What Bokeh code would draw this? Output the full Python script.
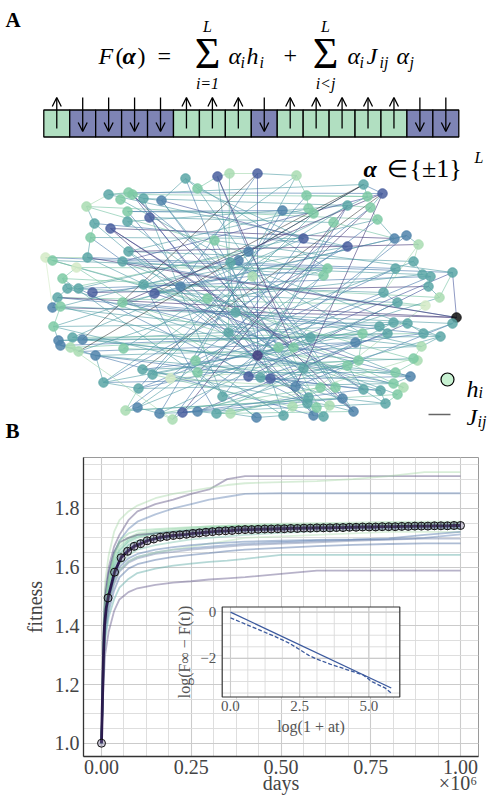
import numpy as np
from bokeh.plotting import figure
from bokeh.models import (Range1d, ColumnDataSource, Arrow, OpenHead, FixedTicker,
                          PrintfTickFormatter, CustomJSTickFormatter, LinearAxis)
from bokeh.embed import file_html
from bokeh.resources import INLINE
from bokeh.core.properties import value

SERIF = "Liberation Serif"

# ---------------------------------------------------------------- data: panel A
spins = [1, -1, -1, -1, -1, 1, 1, 1, -1, 1, 1, 1, 1, 1, -1, -1]

# network layout coordinates (arbitrary layout units) and field level h_i (colour class)
node_x = [-65, -33, -21, 7, 46, 113, 132, 117, 120, 97, 56, 58, 63, 32, -53, -142, -122, -118, -130, -107,
          -89, -164, -123, -101, -123, -156, -140, -160, 127, 144, 156, 168, 53, 97, -36, -2, -12, -20, -122, -163,
          -205, -198, -174, -128, 163, 145, 202, 172, 180, 77, 73, 2, -107, -70, -96, -158, -188, -172, -183, -193,
          178, 189, 133, -198, -190, -128, 175, 147, 206, 202, -197, -15, -43, 129, 143, 157, -22, 112, 137, 173,
          190, -192, -190, -178, -168, -180, -172, -155, -127, 7, 28, 43, 60, 105, 171, 167, 163, 108, 97, -55,
          -108, -98, -80, -53, -2, 10, 20, 53, 145, 160, -147, -112, -28, 45, 70, 85, 113, 130, 143, 153,
          147, 58, 92, 135, -125, -113, -91, -68, -53, -34, -20, -78, 6, 33, 42, 57, 63, 73, 66, 79,
          103, 83]
node_y = [117, 119, 122, 122, 120, 111, 102, 99, 88, 90, 100, 87, 82, 85, 107, 101, 103, 101, 96, 97,
          95, 89, 84, 78, 74, 72, 67, 58, 76, 57, 60, 51, 57, 49, 55, 44, 35, 33, 44, 38,
          38, 35, 28, 34, 34, 27, 23, 21, 19, 27, 20, 19, 11, 9, 2, 3, 17, 7, 7, -2,
          9, -2, 3, -12, -11, -7, -10, -7, -22, -28, -31, -17, -3, -31, -27, -28, -37, -38, -38, -38,
          -41, -45, -50, -42, -44, -52, -56, -60, -53, -60, -52, -52, -42, -47, -51, -65, -63, -65, -70, -65,
          -74, -79, -83, -77, -81, -82, -83, -73, -77, -81, -87, -93, -101, -91, -92, -92, -94, -95, -88, -92,
          -99, -102, -103, -108, -115, -112, -118, -117, -116, -118, -118, -124, -122, -120, -111, -108, -120, -121, -112, -110,
          -116, 73]
node_h = [3, 5, 1, 5, 1, 3, 5, 2, 2, 3, 2, 2, 2, 4, 2, 3, 2, 2, 2, 3,
          4, 1, 2, 5, 3, 3, 5, 2, 2, 4, 4, 1, 5, 5, 2, 4, 4, 3, 3, 3,
          0, 2, 0, 3, 3, 3, 3, 3, 3, 2, 2, 1, 3, 4, 5, 5, 2, 3, 3, 3,
          3, 1, 3, 4, 2, 2, 0, 3, 7, 3, 2, 3, 2, 3, 3, 3, 3, 2, 3, 3,
          3, 4, 4, 3, 4, 1, 1, 4, 2, 6, 2, 2, 3, 4, 1, 1, 2, 2, 2, 2,
          3, 3, 0, 2, 5, 3, 5, 3, 2, 4, 3, 3, 3, 4, 2, 2, 3, 3, 2, 1,
          2, 3, 4, 3, 1, 4, 4, 5, 4, 3, 1, 1, 4, 3, 1, 3, 4, 3, 2, 1,
          4, 2]

# couplings J_ij : "i-j:level"
edges = """
15-16:2 16-17:2 17-19:3 19-20:3 20-0:3 0-14:3 14-1:2 1-2:2 2-3:1 3-4:3 4-10:2 10-11:2 11-12:2 10-7:2 7-5:3
5-6:4 6-8:3 8-9:2 9-13:3 13-12:3 15-21:1 21-25:3 25-27:2 27-39:3 39-40:1 40-41:2 41-42:0 42-56:2 56-58:3
58-59:3 59-63:3 63-64:3 64-70:2 70-81:3 81-82:4 82-85:2 85-86:1 86-87:3 87-110:3 110-111:3 111-124:2
124-125:3 125-126:3 126-131:1 131-127:4 127-128:4 128-129:3 129-130:2 130-132:3 132-133:3 133-134:2
134-135:2 135-136:3 136-137:3 137-139:2 139-140:3 140-122:4 122-123:3 123-120:2 120-119:1 119-118:2
118-109:3 109-108:3 108-95:2 95-96:2 96-94:1 94-80:3 80-79:3 79-69:3 69-68:4 68-46:5 46-61:2 61-60:3
60-48:3 48-47:3 47-44:3 44-31:1 31-30:3 30-29:4 29-28:3 28-8:2 66-67:2 67-62:3 62-45:3 73-74:3 74-75:3
75-79:3 78-73:3 77-97:2 97-98:2 98-116:3 116-117:3 117-123:3
15-5:3 16-6:4 17-7:2 19-9:3 21-28:2 22-12:3 24-13:3 25-33:4 26-29:6 27-32:3 38-44:3 39-45:4 40-46:4
41-47:3 42-49:2 43-50:3 52-62:3 55-60:6 56-61:2 57-48:4 58-67:3 59-66:2 63-68:6 64-69:3 65-73:4 70-74:3
81-75:3 82-78:4 83-79:2 84-80:3 85-77:2 86-93:4 87-94:3 88-95:2 100-96:3 101-97:2 102-98:1 103-108:3
110-109:4 111-118:3 124-120:2 126-123:3 127-122:4
0-49:3 0-89:4 1-35:4 1-71:3 2-76:2 3-53:4 3-89:5 4-52:3 4-99:3 5-37:4 5-54:7 6-100:7 6-43:5 7-36:3
8-71:4 8-103:6 9-104:5 10-111:4 11-38:3 12-101:3 13-22:4 13-126:4 14-32:3 14-115:3 15-33:3 16-92:4
17-89:5 18-77:3 19-112:3 20-121:4 20-32:5 21-50:2 22-106:4 23-141:3 23-136:5 24-91:3 25-137:3 26-135:6
26-116:5 27-113:4 28-57:3 28-124:4 29-54:4 29-105:3 30-65:3 30-127:4 31-62:1 32-83:3 32-131:4 33-110:4
33-52:3 34-121:4 34-46:3 35-140:3 35-58:2 36-122:4 36-64:3 37-133:3 37-80:3 38-107:3 39-90:3 40-63:0
41-71:3 42-104:2 43-68:4 44-76:3 45-99:4 46-89:5 47-72:3 48-103:4 49-112:4 49-86:3 50-125:3 51-137:2
51-110:3 52-129:4 53-139:3 53-70:3 54-97:5 55-49:4 56-132:3 57-135:4 58-117:3 59-79:4 60-104:5 61-89:3
62-111:4 63-94:3 64-107:3 65-119:2 66-134:1 67-126:3 68-59:6 69-113:4 70-106:3 71-123:3 72-140:4
73-101:3 74-129:3 75-128:5 76-120:3 77-110:3 78-105:4 79-100:4 80-112:3 81-92:3 82-136:4 83-109:3
84-108:3 85-131:1 84-3:7 5-86:7 87-116:4 88-9:3 89-118:4 90-20:3 91-26:6 92-125:3 93-111:4 94-52:3
95-41:2 96-130:1 97-128:3 98-105:3 99-133:3 100-139:3 101-134:2 102-113:1 103-132:3 104-117:4 105-122:3
106-121:4 107-140:3 108-43:3 109-65:4 113-136:3 114-126:2 115-130:2 116-127:4 118-87:3 119-71:2
121-129:3 122-124:3 129-140:2 141-104:3 141-29:2 1-91:6 6-113:6 6-65:6 31-38:6 9-127:6 17-140:6 68-39:6
"""

# ---------------------------------------------------------------- data: panel B
days = [0, 1000, 3000, 6000, 10000, 20000, 35000, 50000, 75000, 100000, 150000, 200000,
        250000, 300000, 350000, 400000, 500000, 600000, 700000, 800000, 900000, 1000000]
runs = [
    [1.0, 1.07, 1.22, 1.40, 1.52, 1.60, 1.67, 1.71, 1.76, 1.79, 1.815, 1.83, 1.85, 1.865, 1.90, 1.91, 1.91, 1.91, 1.91, 1.91, 1.91, 1.91],
    [1.0, 1.07, 1.23, 1.42, 1.55, 1.64, 1.72, 1.76, 1.79, 1.81, 1.835, 1.85, 1.86, 1.87, 1.88, 1.886, 1.89, 1.893, 1.90, 1.91, 1.924, 1.924],
    [1.0, 1.06, 1.20, 1.37, 1.49, 1.58, 1.65, 1.69, 1.73, 1.755, 1.78, 1.80, 1.815, 1.83, 1.84, 1.85, 1.852, 1.852, 1.852, 1.852, 1.852, 1.852],
    [1.0, 1.06, 1.19, 1.36, 1.48, 1.56, 1.64, 1.68, 1.70, 1.715, 1.725, 1.73, 1.735, 1.74, 1.742, 1.745, 1.748, 1.75, 1.752, 1.754, 1.755, 1.755],
    [1.0, 1.06, 1.18, 1.34, 1.45, 1.53, 1.61, 1.655, 1.685, 1.70, 1.715, 1.722, 1.728, 1.733, 1.737, 1.74, 1.743, 1.745, 1.747, 1.749, 1.75, 1.75],
    [1.0, 1.05, 1.17, 1.32, 1.43, 1.51, 1.59, 1.64, 1.675, 1.69, 1.705, 1.715, 1.72, 1.727, 1.732, 1.735, 1.738, 1.74, 1.742, 1.744, 1.745, 1.745],
    [1.0, 1.06, 1.18, 1.33, 1.44, 1.52, 1.60, 1.645, 1.675, 1.69, 1.70, 1.707, 1.713, 1.718, 1.722, 1.726, 1.73, 1.733, 1.735, 1.737, 1.738, 1.738],
    [1.0, 1.06, 1.19, 1.35, 1.47, 1.55, 1.63, 1.67, 1.695, 1.71, 1.72, 1.725, 1.73, 1.735, 1.738, 1.74, 1.743, 1.745, 1.746, 1.747, 1.748, 1.748],
    [1.0, 1.05, 1.16, 1.31, 1.42, 1.50, 1.58, 1.63, 1.665, 1.68, 1.695, 1.703, 1.71, 1.715, 1.72, 1.723, 1.727, 1.73, 1.732, 1.733, 1.735, 1.735],
    [1.0, 1.06, 1.18, 1.34, 1.46, 1.54, 1.62, 1.66, 1.69, 1.705, 1.715, 1.72, 1.725, 1.73, 1.733, 1.735, 1.737, 1.739, 1.74, 1.741, 1.742, 1.742],
    [1.0, 1.05, 1.15, 1.29, 1.40, 1.48, 1.55, 1.59, 1.62, 1.635, 1.65, 1.66, 1.665, 1.67, 1.675, 1.68, 1.685, 1.69, 1.693, 1.695, 1.70, 1.712],
    [1.0, 1.05, 1.15, 1.29, 1.39, 1.47, 1.54, 1.585, 1.615, 1.63, 1.645, 1.652, 1.66, 1.665, 1.67, 1.675, 1.68, 1.685, 1.69, 1.694, 1.697, 1.697],
    [1.0, 1.05, 1.14, 1.27, 1.37, 1.45, 1.52, 1.565, 1.595, 1.61, 1.625, 1.635, 1.642, 1.648, 1.655, 1.66, 1.666, 1.672, 1.676, 1.679, 1.681, 1.681],
    [1.0, 1.04, 1.13, 1.25, 1.35, 1.43, 1.49, 1.53, 1.56, 1.58, 1.595, 1.605, 1.612, 1.618, 1.622, 1.628, 1.642, 1.642, 1.642, 1.642, 1.642, 1.642],
    [1.0, 1.04, 1.11, 1.21, 1.30, 1.38, 1.45, 1.49, 1.515, 1.528, 1.54, 1.547, 1.552, 1.558, 1.562, 1.566, 1.577, 1.588, 1.588, 1.588, 1.588, 1.588],
    [1.0, 1.05, 1.15, 1.29, 1.40, 1.48, 1.55, 1.59, 1.62, 1.635, 1.65, 1.66, 1.67, 1.68, 1.69, 1.70, 1.705, 1.71, 1.715, 1.72, 1.72, 1.72],
    [1.0, 1.05, 1.16, 1.31, 1.42, 1.50, 1.57, 1.61, 1.64, 1.66, 1.675, 1.685, 1.695, 1.70, 1.705, 1.71, 1.717, 1.722, 1.726, 1.728, 1.73, 1.73],
    [1.0, 1.07, 1.21, 1.38, 1.50, 1.58, 1.65, 1.685, 1.70, 1.71, 1.715, 1.72, 1.725, 1.73, 1.733, 1.735, 1.737, 1.738, 1.739, 1.74, 1.74, 1.74],
    [1.0, 1.06, 1.18, 1.35, 1.47, 1.56, 1.64, 1.69, 1.715, 1.725, 1.73, 1.733, 1.736, 1.738, 1.74, 1.741, 1.742, 1.743, 1.744, 1.745, 1.745, 1.745],
    [1.0, 1.05, 1.15, 1.30, 1.41, 1.49, 1.56, 1.60, 1.63, 1.645, 1.66, 1.668, 1.675, 1.68, 1.684, 1.687, 1.69, 1.693, 1.695, 1.698, 1.71, 1.72],
]
run_colors = ["#5b5080", "#a8d8a8", "#5e7fb0", "#a9dcb1", "#7cc8a4", "#b7e1b9", "#5aa9a5", "#8fd0a9",
              "#4f8fa8", "#6cc0a0", "#5b7fb3", "#6d7fa6", "#4a6aa0", "#5aa9a5", "#5f5588", "#b5dfb5",
              "#7fc4b0", "#4b4470", "#8fd3a5", "#4e74a8"]

mean_days = [0, 18182, 36364, 54545, 72727, 90909, 109091, 127273, 145455, 163636, 181818, 200000,
             218182, 236364, 254545, 272727, 290909, 309091, 327273, 345455, 363636, 381818, 400000,
             418182, 436364, 454545, 472727, 490909, 509091, 527273, 545455, 563636, 581818, 600000,
             618182, 636364, 654545, 672727, 690909, 709091, 727273, 745455, 763636, 781818, 800000,
             818182, 836364, 854545, 872727, 890909, 909091, 927273, 945455, 963636, 981818, 1000000]
mean_fit = [1.000, 1.495, 1.583, 1.632, 1.654, 1.671, 1.680, 1.690, 1.696, 1.702, 1.705, 1.708, 1.710,
            1.712, 1.715, 1.717, 1.719, 1.721, 1.723, 1.724, 1.725, 1.727, 1.728, 1.728, 1.729, 1.730,
            1.730, 1.731, 1.731, 1.732, 1.732, 1.733, 1.733, 1.734, 1.734, 1.734, 1.735, 1.735, 1.736,
            1.736, 1.737, 1.737, 1.737, 1.738, 1.738, 1.738, 1.739, 1.739, 1.740, 1.740, 1.740, 1.741,
            1.741, 1.741, 1.742, 1.742]
mean_err = [0.0, 0.015, 0.014, 0.014, 0.013, 0.013, 0.013, 0.013, 0.013, 0.013, 0.013, 0.013, 0.013,
            0.013, 0.013, 0.013, 0.013, 0.013, 0.013, 0.013, 0.013, 0.013, 0.013, 0.013, 0.013, 0.013,
            0.013, 0.013, 0.013, 0.013, 0.013, 0.013, 0.013, 0.013, 0.013, 0.013, 0.013, 0.013, 0.013,
            0.013, 0.013, 0.013, 0.013, 0.013, 0.013, 0.013, 0.013, 0.013, 0.013, 0.013, 0.013, 0.013,
            0.013, 0.013, 0.013, 0.013]
early_days = [1800, 3600, 5600, 8400, 13000]
early_fit = [1.10, 1.20, 1.30, 1.40, 1.46]

# inset: log(F_inf - F(t)) versus log(1 + a t)
fit_logt = [0.0, 5.81]
fit_logdf = [0.0, -3.28]
obs_logt = [0.0, 0.5, 1.1, 1.6, 2.1, 2.5, 2.83, 3.1, 3.6, 4.4, 4.8, 5.1, 5.6, 5.81]
obs_logdf = [-0.25, -0.50, -0.80, -1.05, -1.33, -1.62, -1.87, -2.02, -2.25, -2.56, -2.72, -3.00, -3.29, -3.50]

x_ticks = [0, 250000, 500000, 750000, 1000000]
y_ticks = [1.0, 1.2, 1.4, 1.6, 1.8]
inset_xticks = [0.0, 2.5, 5.0]
inset_xlabels = ["0.0", "2.5", "5.0"]
inset_yticks = [0, -2]
inset_ylabels = ["0", "−2"]

# ---------------------------------------------------------------- styles
NODE_PAL = ["#d3eac6", "#a9dcb1", "#7ecaa4", "#5aa6a6", "#4f82aa", "#4a5f9f", "#463e80", "#111111"]
EDGE_PAL = ["#d4ecc6", "#a6d8b0", "#78c4a4", "#56a0a8", "#4e7eae", "#4a5b9e", "#453b7b", "#1e1e1e"]

W = 495                        # the page body has no margin (Bokeh file template)
A_TOP, A_BOT = 0, 446          # page px covered by panel A
B_BOT = 800

# ================================================================ panel A
pA = figure(width=W, height=A_BOT - A_TOP, x_range=Range1d(0, W), y_range=Range1d(A_BOT, A_TOP),
            output_backend="svg", toolbar_location=None, x_axis_location=None,
            y_axis_location=None, min_border=0, min_border_left=0, min_border_right=0,
            min_border_top=0, min_border_bottom=0, title=None)
pA.grid.visible = False
pA.outline_line_color = None
pA.background_fill_color = "white"

CHAIN_L, CHAIN_R, CHAIN_T, CHAIN_B = 43.3, 458.3, 109.5, 136.5
cell = (CHAIN_R - CHAIN_L) / len(spins)
pA.extra_x_ranges = {
    "chain": Range1d(-CHAIN_L / cell, len(spins) + (W - CHAIN_R) / cell),
    "nx": Range1d(-250, W - 250),
}
pA.extra_y_ranges = {"ny": Range1d(295 - A_BOT, 295)}


def txt(p, x, y, s, size, style="normal", align="left", baseline="alphabetic",
        color="black", angle=0.0, font=SERIF, **kw):
    p.text(x=[x], y=[y], text=[s], text_font=value(font), text_font_size=f"{size}px",
           text_font_style=style, text_align=align, text_baseline=baseline,
           text_color=color, angle=angle, **kw)


# panel letters
txt(pA, 5, 7, "A", 21, "bold", baseline="top")
txt(pA, 5, 418, "B", 21, "bold", baseline="top")

# formula F(alpha) = sum alpha_i h_i + sum alpha_i J_ij alpha_j
FS = 24
SUB = 16
for x, s, st, sz, yb in [
    (98, "F", "italic", FS, 55), (115, "(", "normal", FS, 55), (122, "α", "bold italic", FS, 55),
    (137, ")", "normal", FS, 55), (157, "=", "normal", FS, 55),
    (228, "α", "italic", FS, 55), (240, "i", "italic", SUB, 62), (246, "h", "italic", FS, 55),
    (259, "i", "italic", SUB, 62), (283, "+", "normal", FS, 55),
    (347, "α", "italic", FS, 55), (359, "i", "italic", SUB, 62), (366, "J", "italic", FS, 55),
    (379, "ij", "italic", SUB, 62), (396, "α", "italic", FS, 55), (409, "j", "italic", SUB, 62),
]:
    txt(pA, x, yb, s, sz, st)
for cx in (207, 325):
    txt(pA, cx, 53, "Σ", 44, align="center")
txt(pA, 207, 26, "L", 16, "italic", align="center")
txt(pA, 207, 83, "i=1", 16, "italic", align="center")
txt(pA, 325, 26, "L", 16, "italic", align="center")
txt(pA, 325, 83, "i<j", 16, "italic", align="center")

# alpha in {+-1}^L
txt(pA, 363, 168, "α", FS, "bold italic")
txt(pA, 386, 168, "∈", FS)
txt(pA, 409, 168, "{±1}", 26)
txt(pA, 474, 157, "L", 16, "italic")

# spin chain
idx = np.arange(len(spins))
sp = np.array(spins)
cells = ColumnDataSource(dict(
    left=idx, right=idx + 1,
    color=["#b1dfc1" if s > 0 else "#7e84b5" for s in spins],
))
pA.quad(left="left", right="right", top=CHAIN_T, bottom=CHAIN_B, fill_color="color",
        line_color="black", line_width=1.3, source=cells, x_range_name="chain")
arr = ColumnDataSource(dict(
    x=idx + 0.5,
    y0=np.where(sp > 0, 128.0, 97.0),
    y1=np.where(sp > 0, 97.0, 131.0),
))
pA.add_layout(Arrow(end=OpenHead(size=9, line_width=1.3, line_color="black"),
                    x_start="x", y_start="y0", x_end="x", y_end="y1", source=arr,
                    line_width=1.3, line_color="black", x_range_name="chain"))

# network edges
ex0, ey0, ex1, ey1, ec, ew = [], [], [], [], [], []
for tok in edges.split():
    pair, lev = tok.split(":")
    a, b = (int(v) for v in pair.split("-"))
    lev = int(lev)
    ex0.append(node_x[a]); ey0.append(node_y[a])
    ex1.append(node_x[b]); ey1.append(node_y[b])
    ec.append(EDGE_PAL[lev]); ew.append(0.8 if lev == 7 else 1.0)
pA.segment(x0=ex0, y0=ey0, x1=ex1, y1=ey1, line_color=ec, line_width=ew, line_alpha=0.62,
           x_range_name="nx", y_range_name="ny")
ncol = [NODE_PAL[h] for h in node_h]
pA.scatter(node_x, node_y, size=9.5, fill_color=ncol, line_color=ncol, fill_alpha=0.85,
           line_alpha=0.9, x_range_name="nx", y_range_name="ny")

# legend
pA.scatter([447], [379], size=13, fill_color="#c7f1d1", line_color="black", line_width=1.2)
txt(pA, 466, 388, "h", FS, "italic")
txt(pA, 478, 392, "i", SUB, "italic")
pA.segment(x0=[428], y0=[414], x1=[450], y1=[414], line_color="#666666", line_width=1.5)
txt(pA, 466, 416, "J", FS, "italic")
txt(pA, 477, 421, "ij", SUB, "italic")

# ================================================================ panel B
FX0, FX1, FY0, FY1 = 83, 478, 457, 756          # frame, page px
X_LO, X_HI = -50140, 1050140
Y_LO, Y_HI = 0.9547, 1.9738
pB = figure(width=W, height=B_BOT - A_BOT, x_range=Range1d(X_LO, X_HI), y_range=Range1d(Y_LO, Y_HI),
            output_backend="svg", toolbar_location=None, title=None,
            min_border_left=FX0, min_border_right=W - FX1,
            min_border_top=FY0 - A_BOT, min_border_bottom=B_BOT - FY1)
pB.background_fill_color = "white"
pB.outline_line_color = "#9a9a9a"
pB.outline_line_width = 1

pB.xaxis.ticker = FixedTicker(ticks=x_ticks, minor_ticks=list(np.arange(-62500, 1100000, 62500)))
pB.xaxis.formatter = CustomJSTickFormatter(code="return (tick/1e6).toFixed(2);")
pB.yaxis.ticker = FixedTicker(ticks=y_ticks, minor_ticks=list(np.round(np.arange(0.90, 2.0, 0.05), 2)))
pB.yaxis.formatter = PrintfTickFormatter(format="%.1f")
for ax in (pB.xaxis[0], pB.yaxis[0]):
    ax.major_tick_line_color = None
    ax.minor_tick_line_color = None
    ax.major_tick_out = 0
    ax.major_tick_in = 0
    ax.minor_tick_out = 0
    ax.minor_tick_in = 0
    ax.axis_line_color = "#333333"
    ax.axis_line_width = 1.3
    ax.major_label_text_font = SERIF
    ax.major_label_text_font_size = "20px"
    ax.major_label_text_color = "#444444"
pB.xaxis.major_label_standoff = 3
pB.yaxis.major_label_standoff = 4
pB.yaxis.axis_label = "fitness"
pB.yaxis.axis_label_text_font = SERIF
pB.yaxis.axis_label_text_font_size = "20px"
pB.yaxis.axis_label_text_font_style = "normal"
pB.yaxis.axis_label_text_color = "#444444"
pB.yaxis.axis_label_standoff = 6

# second row under the tick labels: "days" and the x10^6 multiplier
lab_axis = LinearAxis(ticker=FixedTicker(ticks=[500000, 993000]),
                      major_label_overrides={500000: "days", 993000: "×10⁶"},
                      axis_line_color=None, major_tick_line_color=None,
                      minor_tick_line_color=None, major_tick_out=0, major_tick_in=0,
                      minor_tick_out=0, minor_tick_in=0, major_label_standoff=-5,
                      major_label_text_font=SERIF, major_label_text_font_size="20px",
                      major_label_text_color="#444444")
pB.add_layout(lab_axis, "below")

for g in (pB.xgrid[0], pB.ygrid[0]):
    g.grid_line_color = "#cbcbcb"
    g.grid_line_width = 1.1
    g.minor_grid_line_color = "#dadada"
    g.minor_grid_line_width = 0.9

for vals, col in zip(runs, run_colors):
    pB.line(days, vals, line_color=col, line_alpha=0.45, line_width=1.8)

line_days = [0] + early_days + mean_days[1:]
line_fit = [mean_fit[0]] + early_fit + mean_fit[1:]
pB.line(line_days, line_fit, line_color="#2b1b4e", line_width=2.8)
mf = np.array(mean_fit)
me = np.array(mean_err)
pB.segment(x0=mean_days, y0=mf - me, x1=mean_days, y1=mf + me, line_color="#1a1a1a",
           line_width=1.0)
pB.scatter(mean_days, mean_fit, size=8, fill_color="#6c6290", fill_alpha=0.35,
           line_color="#111111", line_width=1.0)

# ---------------- inset, drawn on its own scales inside the frame
IN_L, IN_R, IN_T, IN_B = 221.7, 399.3, 606.5, 696.5   # page px of the inset box
IX0, IX1 = -0.30, 6.12
IY0, IY1 = -3.67, 0.22
sx = (IX1 - IX0) / (IN_R - IN_L)
sy = (IY1 - IY0) / (IN_B - IN_T)
pB.extra_x_ranges = {"ix": Range1d(IX0 - (IN_L - FX0) * sx, IX1 + (FX1 - IN_R) * sx)}
pB.extra_y_ranges = {"iy": Range1d(IY0 - (FY1 - IN_B) * sy, IY1 + (IN_T - FY0) * sy)}
ik = dict(x_range_name="ix", y_range_name="iy")

pB.quad(left=[IX0], right=[IX1], bottom=[IY0], top=[IY1], fill_color="white",
        line_color=None, **ik)
gx_minor = list(np.arange(0, IX1, 0.625))
gy_minor = list(np.arange(0, IY0, -0.5))
pB.segment(x0=gx_minor, y0=IY0, x1=gx_minor, y1=IY1, line_color="#dadada", line_width=0.9, **ik)
pB.segment(x0=IX0, y0=gy_minor, x1=IX1, y1=gy_minor, line_color="#dadada", line_width=0.9, **ik)
pB.segment(x0=inset_xticks, y0=IY0, x1=inset_xticks, y1=IY1, line_color="#cbcbcb",
           line_width=1.1, **ik)
pB.segment(x0=IX0, y0=inset_yticks, x1=IX1, y1=inset_yticks, line_color="#cbcbcb",
           line_width=1.1, **ik)
pB.line(fit_logt, fit_logdf, line_color="#3c5a9e", line_width=1.3, **ik)
pB.line(obs_logt, obs_logdf, line_color="#3c5a9e", line_width=1.3, line_dash="4 2", **ik)
pB.quad(left=[IX0], right=[IX1], bottom=[IY0], top=[IY1], fill_color=None,
        line_color="#333333", line_width=1.2, **ik)

tick_kw = dict(text_font=value(SERIF), text_font_size="15px", text_color="#555555", **ik)
pB.text(x=inset_xticks, y=[IY0] * 3, text=inset_xlabels, text_align="center",
        text_baseline="top", y_offset=4, **tick_kw)
pB.text(x=[IX0] * 2, y=inset_yticks, text=inset_ylabels, text_align="right",
        text_baseline="middle", x_offset=-6, **tick_kw)
pB.text(x=[(IX0 + IX1) / 2], y=[IY0], text=["log(1 + at)"], text_align="center",
        text_baseline="top", y_offset=21, text_font=value(SERIF), text_font_size="16px",
        text_color="#555555", **ik)
pB.text(x=[IX0], y=[(IY0 + IY1) / 2], text=["log(F∞ − F(t))"], text_align="center",
        text_baseline="bottom", x_offset=-29, angle=np.pi / 2, text_font=value(SERIF),
        text_font_size="16px", text_color="#555555", **ik)

open("out.html", "w").write(file_html([pA, pB], INLINE))
